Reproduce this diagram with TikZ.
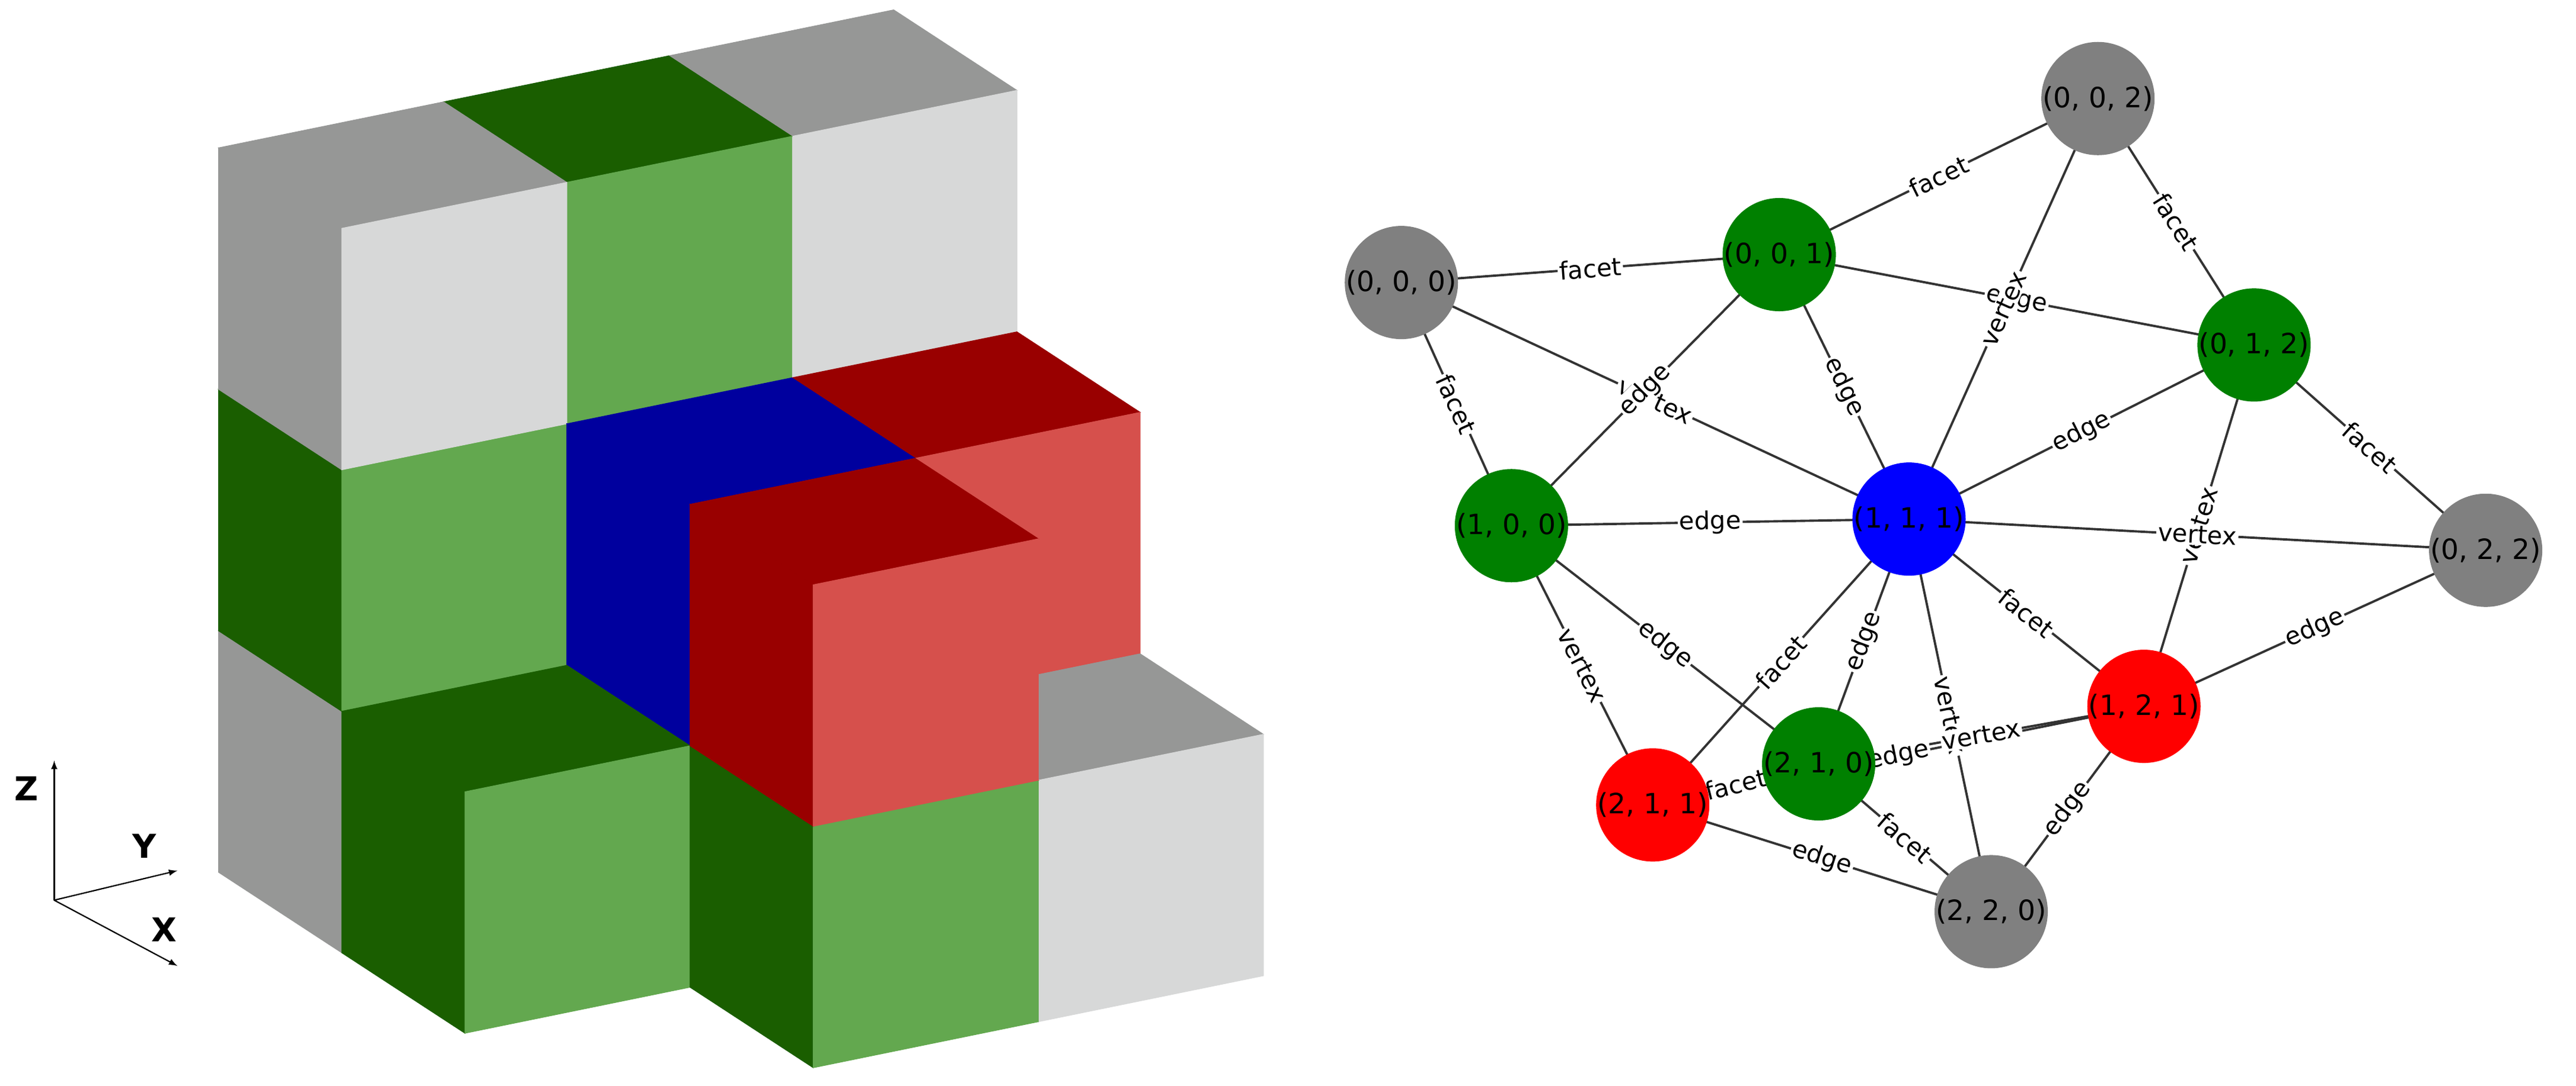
\documentclass[tikz,border=0pt]{standalone}
\usepackage{fontspec}
\setmainfont{DejaVu Sans}
\definecolor{gl}{HTML}{D7D8D8}\definecolor{gd}{HTML}{969796}
\definecolor{nl}{HTML}{63A84F}\definecolor{nd}{HTML}{1A5E00}
\definecolor{rl}{HTML}{D6504C}\definecolor{rd}{HTML}{990000}
\definecolor{bb}{HTML}{00009E}
\definecolor{ng}{HTML}{808080}\definecolor{ngr}{HTML}{008000}
\definecolor{nr}{HTML}{FF0000}\definecolor{nb}{HTML}{0000FF}
\newcommand\vox[5]{%
 \filldraw[#5,line width=0.4pt] (#1,#2,#3)--(#1,#2+1,#3)--(#1+1,#2+1,#3)--(#1+1,#2,#3)--cycle;
 \filldraw[#5,line width=0.4pt] (#1,#2,#3)--(#1+1,#2,#3)--(#1+1,#2,#3+1)--(#1,#2,#3+1)--cycle;
 \filldraw[#4,line width=0.4pt] (#1+1,#2,#3)--(#1+1,#2+1,#3)--(#1+1,#2+1,#3+1)--(#1+1,#2,#3+1)--cycle;}
\tikzset{
 vn/.style={circle,minimum size=43pt,inner sep=0pt,font=\fontsize{17}{17}\selectfont},
 el/.style={midway,sloped,fill=white,inner sep=1pt,text=black,font=\fontsize{15}{15}\selectfont},
 ln/.style={line width=1.4pt,black!80},
 ax/.style={-latex,line width=0.8pt},
 axl/.style={font=\fontsize{20}{20}\selectfont\bfseries}
}
\begin{document}
\begin{tikzpicture}[x=1pt,y=-1pt]
\useasboundingbox (0,0) rectangle (1568,661);
% voxels
\begin{scope}[shift={(133,90)},x={(75pt,-49pt)},y={(137pt,28pt)},z={(0pt,-147pt)}]
 \vox{0}{2}{2}{gl}{gd}\vox{0}{2}{0}{gl}{gd}
 \vox{0}{1}{0}{nl}{nd}
 \vox{0}{0}{2}{gl}{gd}\vox{0}{0}{1}{nl}{nd}\vox{0}{0}{0}{gl}{gd}
 \vox{1}{2}{1}{rl}{rd}
 \vox{1}{1}{1}{bb}{bb}
 \vox{1}{0}{2}{nl}{nd}
 \vox{2}{2}{2}{gl}{gd}
 \vox{2}{1}{2}{nl}{nd}\vox{2}{1}{1}{rl}{rd}
\end{scope}
% axes
\coordinate (o) at (33,548);
\coordinate (az) at (33,463);
\coordinate (ay) at (108,530);
\coordinate (axx) at (108,588);
\draw[ax] (o)--(az); \draw[ax] (o)--(ay); \draw[ax] (o)--(axx);
\node[axl] (lz) at (16,480) {Z};
\node[axl] (ly) at (88,515) {Y};
\node[axl] (lx) at (100,566) {X};
% graph positions
\coordinate (c002) at (1277,60);
\coordinate (c001) at (1083,155);
\coordinate (c000) at (853,172);
\coordinate (c012) at (1372,210);
\coordinate (c100) at (920,320);
\coordinate (c111) at (1162,316);
\coordinate (c022) at (1513,335);
\coordinate (c121) at (1305,430);
\coordinate (c210) at (1107,465);
\coordinate (c211) at (1006,490);
\coordinate (c220) at (1212,555);
\def\edgelist{000/001/facet,000/100/facet,000/111/vertex,001/002/facet,001/012/edge,001/111/edge,001/100/edge,002/111/vertex,002/012/facet,012/111/edge,012/022/facet,012/121/vertex,111/022/vertex,100/111/edge,022/121/edge,100/210/edge,100/211/vertex,111/211/facet,111/210/edge,111/220/vertex,111/121/facet,121/211/edge,121/210/vertex,210/211/facet,210/220/facet,211/220/edge,121/220/edge}
% edges
\foreach \a/\b/\t in \edgelist \draw[ln] (c\a)--(c\b);
% edge labels
\foreach \a/\b/\t in \edgelist \path (c\a)--(c\b) node[el]{\t};
% nodes
\node[vn,fill=ng] (n002) at (c002) {(0, 0, 2)};
\node[vn,fill=ngr] (n001) at (c001) {(0, 0, 1)};
\node[vn,fill=ng] (n000) at (c000) {(0, 0, 0)};
\node[vn,fill=ngr] (n012) at (c012) {(0, 1, 2)};
\node[vn,fill=ngr] (n100) at (c100) {(1, 0, 0)};
\node[vn,fill=nb] (n111) at (c111) {(1, 1, 1)};
\node[vn,fill=ng] (n022) at (c022) {(0, 2, 2)};
\node[vn,fill=nr] (n121) at (c121) {(1, 2, 1)};
\node[vn,fill=ngr] (n210) at (c210) {(2, 1, 0)};
\node[vn,fill=nr] (n211) at (c211) {(2, 1, 1)};
\node[vn,fill=ng] (n220) at (c220) {(2, 2, 0)};
\end{tikzpicture}
\end{document}
